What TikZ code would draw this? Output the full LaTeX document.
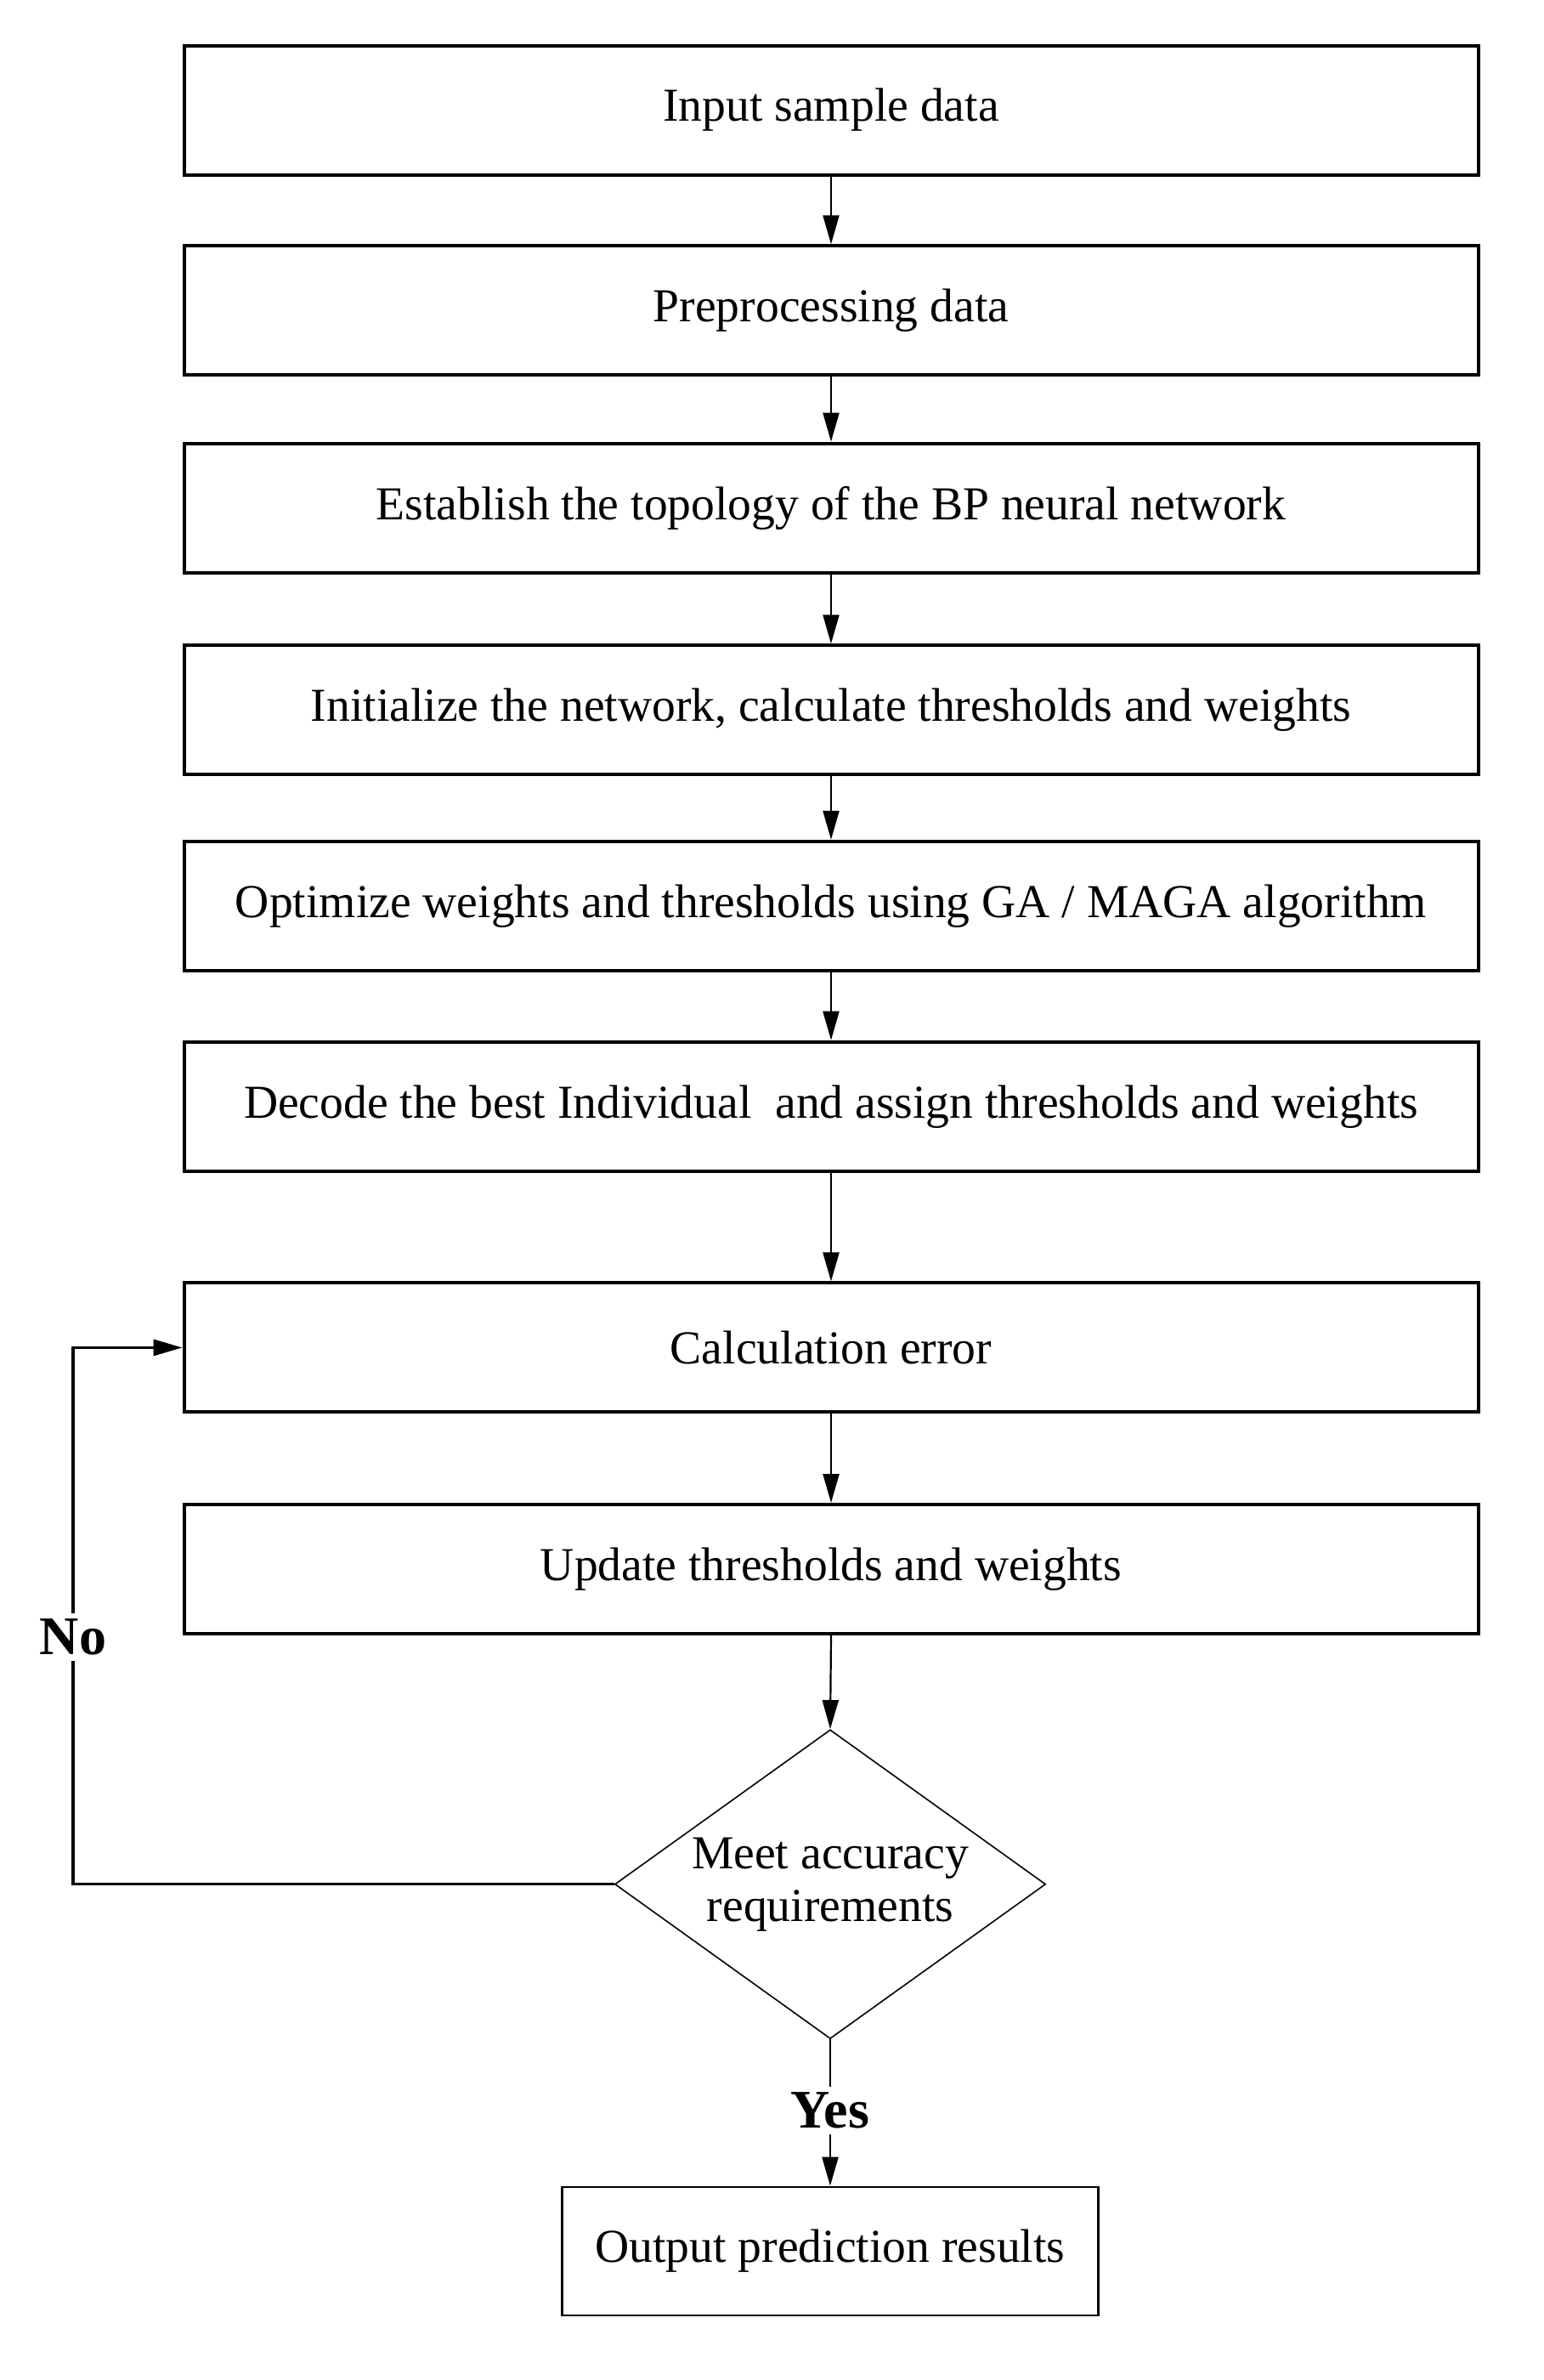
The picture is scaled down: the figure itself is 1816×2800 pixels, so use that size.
\documentclass[tikz,border=0pt]{standalone}
\usepackage{fontspec}
\setmainfont{Liberation Serif}
\usetikzlibrary{shapes.geometric,arrows.meta}
\begin{document}
\begin{tikzpicture}[x=0.5pt,y=-0.5pt,
  box/.style={draw, line width=2pt, minimum width=761.5pt, minimum height=76pt, inner sep=0pt, font=\fontsize{27.8}{31}\selectfont},
  dec/.style={draw, diamond, aspect=1.39, line width=0.8pt, minimum width=253.5pt, minimum height=181.8pt, inner sep=0pt, align=center, font=\fontsize{27.8}{31}\selectfont},
  outbox/.style={draw, line width=1.4pt, minimum width=315.5pt, minimum height=75.5pt, inner sep=0pt, font=\fontsize{27.8}{31}\selectfont},
  lbl/.style={inner sep=3pt, font=\fontsize{32}{36}\selectfont\bfseries},
  arr/.style={line width=1.1pt, -{Triangle[length=17pt,width=9.5pt]}},
  ln/.style={line width=1.1pt}]
\useasboundingbox (0,0) rectangle (1816,2800);
\fill[white] (0,0) rectangle (1816,2800);
\node[box] (b1) at (978,129.5) {Input sample data};
\node[box] (b2) at (978,365.3) {Preprocessing data};
\node[box] (b3) at (978,597.6) {Establish the topology of the BP neural network};
\node[box] (b4) at (978,835.3) {Initialize the network, calculate thresholds and weights};
\node[box] (b5) at (978,1065.8) {Optimize weights and thresholds using GA / MAGA algorithm};
\node[box] (b6) at (978,1301.7) {Decode the best Individual\ \ and assign thresholds and weights};
\node[box] (b7) at (978,1585.4) {Calculation error};
\node[box] (b8) at (978,1846) {Update thresholds and weights};
\node[dec] (d) at (977,2216.7) {Meet accuracy\\requirements};
\node[lbl] (yes) at (977,2483) {Yes};
\node[outbox] (out) at (977,2648.5) {Output prediction results};
\node[lbl] (no) at (86,1926) {No};
\draw[arr] (b1) -- (b2);
\draw[arr] (b2) -- (b3);
\draw[arr] (b3) -- (b4);
\draw[arr] (b4) -- (b5);
\draw[arr] (b5) -- (b6);
\draw[arr] (b6) -- (b7);
\draw[arr] (b7) -- (b8);
\draw[arr] (b8.south) -- (d.north);
\draw[ln] (d.south) -- (yes.north);
\draw[arr] (yes.south) -- (out.north);
\draw[ln, line width=1.6pt] (d.west) -| (no.south);
\draw[arr, line width=1.6pt] (no.north) |- (b7.west);
\end{tikzpicture}
\end{document}
